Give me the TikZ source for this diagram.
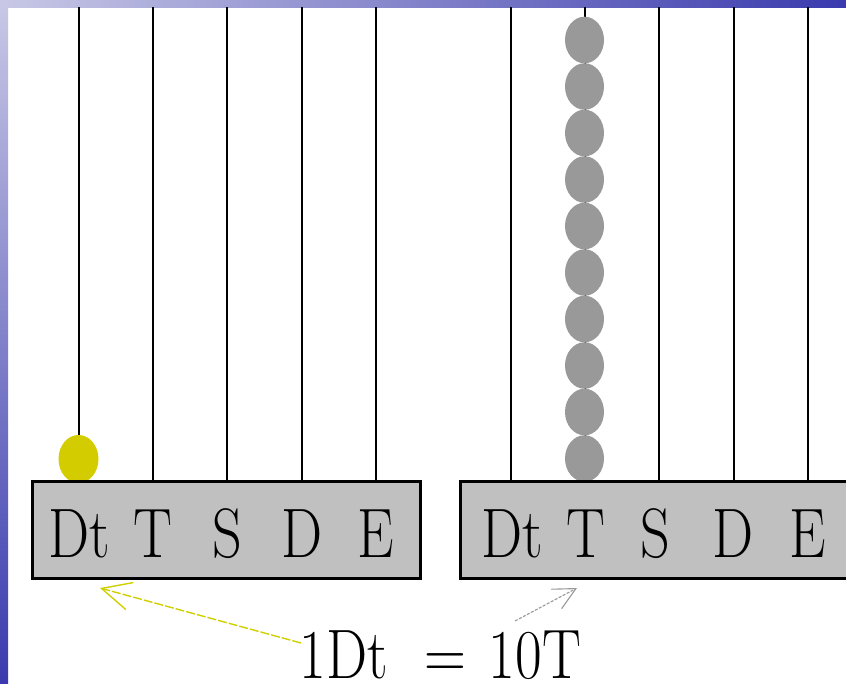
\documentclass[tikz,border=0pt]{standalone}
\usetikzlibrary{arrows.meta}
\definecolor{beadyellow}{HTML}{D2CC00}
\definecolor{arrowyellow}{HTML}{D0D000}
\definecolor{beadgray}{HTML}{999999}
\definecolor{basegray}{HTML}{C0C0C0}
\definecolor{edgelight}{HTML}{C8C8E6}
\definecolor{edgedark}{HTML}{3A3AAE}
\newcommand{\lb}[1]{\raisebox{0pt}[\height][0pt]{\scalebox{0.83}[1]{#1}}}
\tikzset{
  rod/.style={line width=1.1pt, black},
  basebox/.style={draw=black, line width=3pt, fill=basegray},
  yellowbead/.style={fill=beadyellow, draw=none},
  graybead/.style={fill=beadgray, draw=none},
  lbl/.style={anchor=base, inner sep=0pt, font=\fontsize{70}{80}\selectfont},
  yarrow/.style={arrowyellow, line width=1.4pt, dash pattern=on 9pt off 2pt,
    -{Straight Barb[length=29pt, width=28pt, line width=1.4pt]}},
  garrow/.style={beadgray, line width=1.1pt, dash pattern=on 3pt off 1.5pt,
    -{Straight Barb[length=22pt, width=22pt, line width=1.1pt]}}
}
\begin{document}
\begin{tikzpicture}[x=1pt, y=-1pt]
\useasboundingbox (0,0) rectangle (846,683);
\clip (0,0) rectangle (846,683);
\fill[white] (0,0) rectangle (846,683);
% blue frame edges
\shade[top color=edgelight, bottom color=edgedark] (0,0) rectangle (8,683);
\shade[left color=edgelight, right color=edgedark] (0,0) rectangle (846,7);
% rods
\foreach \x in {79,153,227,302,376,511,585,659,734,808}
  \draw[rod] (\x,7) -- (\x,481);
% beads
\fill[yellowbead] (78.5,459) ellipse [x radius=20, y radius=24];
\foreach \k in {0,...,9}
  \fill[graybead] (584.5,{40+46.5*\k}) ellipse [x radius=19.5, y radius=23.3];
% bases
\draw[basebox] (32,481) rectangle (420,578);
\draw[basebox] (460,481) rectangle (870,578);
% labels left
\node[lbl] (lDt) at (79,557) {\lb{Dt}};
\node[lbl] (lT) at (153,557) {\lb{T}};
\node[lbl] (lS) at (227,557) {\lb{S}};
\node[lbl] (lD) at (302,557) {\lb{D}};
\node[lbl] (lE) at (376,557) {\lb{E}};
% labels right
\node[lbl] (rDt) at (512,557) {\lb{Dt}};
\node[lbl] (rT) at (586,557) {\lb{T}};
\node[lbl] (rS) at (655,557) {\lb{S}};
\node[lbl] (rD) at (733,557) {\lb{D}};
\node[lbl] (rE) at (808,557) {\lb{E}};
% equation
\node[lbl] (eqL) at (344,678) {\lb{1Dt}};
\node[lbl] (eqS) at (445,678) {\lb{=}};
\node[lbl] (eqR) at (535,678) {\lb{10T}};
% arrows
\coordinate (ytail) at (301,643);
\coordinate (ytip) at (100,588);
\coordinate (gtail) at (515,621);
\coordinate (gtip) at (577,588);
\draw[yarrow] (ytail) -- (ytip);
\draw[garrow] (gtail) -- (gtip);
\end{tikzpicture}
\end{document}
